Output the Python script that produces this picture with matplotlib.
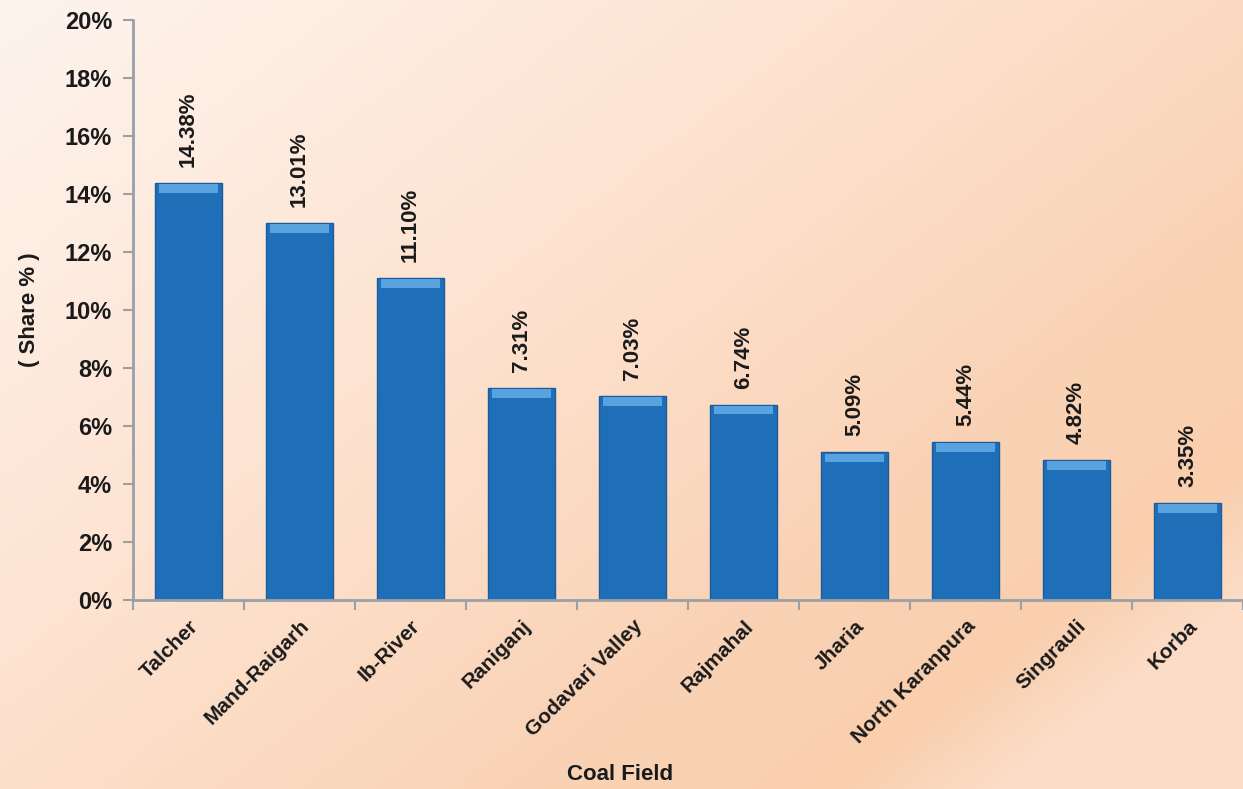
import numpy as np
import matplotlib
matplotlib.use("Agg")
import matplotlib.pyplot as plt
from matplotlib.colors import LinearSegmentedColormap

categories = ["Talcher", "Mand-Raigarh", "Ib-River", "Raniganj", "Godavari Valley",
              "Rajmahal", "Jharia", "North Karanpura", "Singrauli", "Korba"]
shares = [14.38, 13.01, 11.10, 7.31, 7.03, 6.74, 5.09, 5.44, 4.82, 3.35]
yticks = [0, 2, 4, 6, 8, 10, 12, 14, 16, 18, 20]

FONT = ["Liberation Sans", "DejaVu Sans"]
plt.rcParams['font.family'] = FONT
plt.rcParams['font.weight'] = 'bold'

fig = plt.figure(figsize=(12.43, 7.89), dpi=100)

# background gradient
bg = fig.add_axes([0, 0, 1, 1], zorder=0)
yy, xx = np.mgrid[0:1:200j, 0:1:300j]
t = np.clip(0.62 * xx + 0.5 * yy, 0, 1)
cmap = LinearSegmentedColormap.from_list(
    "bg", [(0.0, "#fdf4ee"), (0.45, "#fde2cf"), (0.75, "#fad3b6"), (0.92, "#f9cfae"), (1.0, "#fcdcc6")])
bg.imshow(t, cmap=cmap, aspect='auto', extent=[0, 1, 0, 1], origin='upper')
bg.axis('off')

ax = fig.add_axes([133/1243, 1 - 600/789, (1243-133)/1243, 580/789], zorder=1)
ax.patch.set_alpha(0)

x = np.arange(len(categories))
bw = 0.6
ax.bar(x, shares, width=bw, color="#1f6fb8", edgecolor="#1a5c9e", linewidth=1.0, zorder=2)
# top bevel highlight
bev = 0.3
ax.bar(x, [bev] * len(shares), bottom=[s - bev - 0.04 for s in shares], width=bw * 0.9,
       color="#58a3df", edgecolor="none", zorder=3)

for xi, s in zip(x, shares):
    ax.text(xi, s + 0.55, f"{s:.2f}%", rotation=90, ha='center', va='bottom',
            fontsize=16, fontweight='bold', color="#1a1a1a")

ax.set_xlim(-0.5, len(categories) - 0.5)
ax.set_ylim(0, 20)
ax.set_yticks(yticks)
ax.set_yticklabels([f"{v}%" for v in yticks], fontsize=17, fontweight='bold', color="#1a1a1a")
ax.set_xticks(x)
ax.set_xticklabels(categories, rotation=45, ha='right', rotation_mode='anchor',
                   fontsize=15, fontweight='bold', color="#1a1a1a")
ax.tick_params(axis='x', length=0, pad=12)
ax.set_xticks(np.arange(-0.5, len(categories)), minor=True)
ax.tick_params(axis='x', which='minor', length=7, width=1.5, color="#9aa0a8")
ax.tick_params(axis='y', length=7, width=1.5, color="#9aa0a8", pad=8)

for side in ['top', 'right']:
    ax.spines[side].set_visible(False)
for side in ['left', 'bottom']:
    ax.spines[side].set_color("#9aa0a8")
    ax.spines[side].set_linewidth(2)

ax.set_ylabel("( Share % )", fontsize=16, fontweight='bold', color="#1a1a1a", labelpad=18)
fig.text(620/1243, 1 - 775/789, "Coal Field", ha='center', va='center',
         fontsize=16, fontweight='bold', color="#1a1a1a")

fig.savefig("out.png", dpi=100)
